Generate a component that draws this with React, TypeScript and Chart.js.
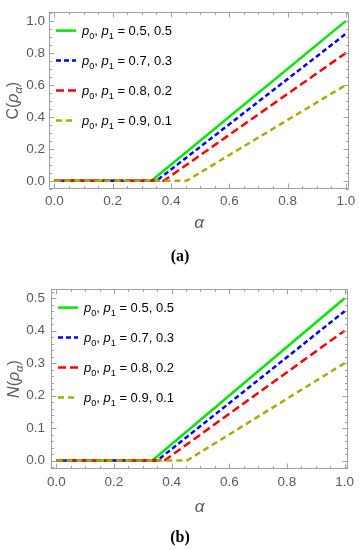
import React, { useEffect, useRef } from 'react';
import { Chart, registerables } from 'chart.js';

Chart.register(...registerables);

// ---------------- data ----------------
const xTicks = [0, 0.2, 0.4, 0.6, 0.8, 1.0];
const yTicksA = [0, 0.2, 0.4, 0.6, 0.8, 1.0];
const yTicksB = [0, 0.1, 0.2, 0.3, 0.4, 0.5];

const legendValues = ['0.5, 0.5', '0.7, 0.3', '0.8, 0.2', '0.9, 0.1'];

// alpha breakpoints of each series (same for both panels)
const alphaGreen = [0, 0.333, 1.0];
const alphaBlue = [0, 0.35, 1.0];
const alphaRed = [0, 0.375, 1.0];
const alphaOlive = [0, 0.453, 1.0];

// panel (a): C(rho_alpha)
const cGreen = [0, 0, 1.0];
const cBlue = [0, 0, 0.92];
const cRed = [0, 0, 0.8];
const cOlive = [0, 0, 0.6];

// panel (b): N(rho_alpha)
const nGreen = [0, 0, 0.5];
const nBlue = [0, 0, 0.46];
const nRed = [0, 0, 0.4];
const nOlive = [0, 0, 0.3];

// ---------------- styles ----------------
const seriesStyles = [
  { color: '#00e600', dash: [] as number[] },
  { color: '#0000ff', dash: [5, 3] },
  { color: '#ff0000', dash: [8, 4] },
  { color: '#aaaa00', dash: [6, 4] },
];

const W = 359;
const H = 275;
const X_MIN = -0.0185;
const X_MAX = 1.0115;
const labelColor = '#5a5a5a';
const frameColor = '#a0a0a0';
const FONT = '"Liberation Sans", Arial, sans-serif';

type Part = { t: string; italic?: boolean; sub?: boolean };

function richWidth(ctx: CanvasRenderingContext2D, parts: Part[], size: number) {
  let w = 0;
  for (const p of parts) {
    const fs = p.sub ? size * 0.7 : size;
    ctx.font = `${p.italic ? 'italic ' : ''}${fs}px ${FONT}`;
    w += ctx.measureText(p.t).width;
  }
  return w;
}

function drawRich(ctx: CanvasRenderingContext2D, parts: Part[], x: number, y: number, size: number) {
  let cx = x;
  ctx.textBaseline = 'alphabetic';
  ctx.textAlign = 'left';
  for (const p of parts) {
    const fs = p.sub ? size * 0.7 : size;
    ctx.font = `${p.italic ? 'italic ' : ''}${fs}px ${FONT}`;
    ctx.fillText(p.t, cx, y + (p.sub ? size * 0.28 : 0));
    cx += ctx.measureText(p.t).width;
  }
}

type PanelCfg = {
  key: string;
  yMin: number;
  yMax: number;
  yTicks: number[];
  yMinorStep: number;
  top: number;
  bottom: number;
  left: number;
  right: number;
  xPad: number;
  yPad: number;
  xTitleY: number;
  yTitleX: number;
  yTitle: Part[];
  caption: string;
  captionY: number;
  values: number[][];
};

function makeDecor(cfg: PanelCfg) {
  return {
    id: 'decor_' + cfg.key,
    afterDraw(chart: any) {
      const ctx: CanvasRenderingContext2D = chart.ctx;
      const a = chart.chartArea;
      const xs = chart.scales.x;
      const ys = chart.scales.y;
      ctx.save();
      // frame
      ctx.strokeStyle = frameColor;
      ctx.lineWidth = 1;
      ctx.setLineDash([]);
      const L = Math.round(a.left) + 0.5;
      const T = Math.round(a.top) + 0.5;
      const R = Math.round(a.right) - 0.5;
      const B = Math.round(a.bottom) - 0.5;
      ctx.strokeRect(L, T, R - L, B - T);
      // ticks
      const major = 5;
      const minor = 2.5;
      ctx.beginPath();
      for (let i = -2; i <= 22; i++) {
        const v = i * 0.05;
        if (v < X_MIN || v > X_MAX) continue;
        const isMajor = i % 4 === 0;
        const len = isMajor ? major : minor;
        const px = Math.round(xs.getPixelForValue(v)) + 0.5;
        ctx.moveTo(px, B);
        ctx.lineTo(px, B - len);
        ctx.moveTo(px, T);
        ctx.lineTo(px, T + len);
      }
      const steps = Math.round(cfg.yTicks[1] / cfg.yMinorStep);
      for (let i = -5; i <= 60; i++) {
        const v = i * cfg.yMinorStep;
        if (v < cfg.yMin || v > cfg.yMax) continue;
        const isMajor = i % steps === 0;
        const len = isMajor ? major : minor;
        const py = Math.round(ys.getPixelForValue(v)) + 0.5;
        ctx.moveTo(L, py);
        ctx.lineTo(L + len, py);
        ctx.moveTo(R, py);
        ctx.lineTo(R - len, py);
      }
      ctx.stroke();

      // legend
      for (let i = 0; i < 4; i++) {
        const y = a.top + 18.5 + 30 * i;
        ctx.strokeStyle = seriesStyles[i].color;
        ctx.lineWidth = 2.5;
        ctx.setLineDash(seriesStyles[i].dash);
        ctx.beginPath();
        ctx.moveTo(a.left + 7, y);
        ctx.lineTo(a.left + 27, y);
        ctx.stroke();
        ctx.setLineDash([]);
        ctx.fillStyle = '#000';
        drawRich(
          ctx,
          [
            { t: 'p', italic: true },
            { t: '0', sub: true },
            { t: ', ' },
            { t: 'p', italic: true },
            { t: '1', sub: true },
            { t: ' = ' + legendValues[i] },
          ],
          a.left + 33,
          y + 4.5,
          13
        );
      }

      // x title
      ctx.fillStyle = labelColor;
      ctx.font = `italic 17px ${FONT}`;
      ctx.textAlign = 'center';
      ctx.textBaseline = 'middle';
      ctx.fillText('α', (a.left + a.right) / 2, cfg.xTitleY);

      // y title
      ctx.save();
      ctx.translate(cfg.yTitleX, (a.top + a.bottom) / 2);
      ctx.rotate(-Math.PI / 2);
      const tw = richWidth(ctx, cfg.yTitle, 16);
      ctx.fillStyle = labelColor;
      drawRich(ctx, cfg.yTitle, -tw / 2, 5.5, 16);
      ctx.restore();

      // caption
      ctx.fillStyle = '#000';
      ctx.font = `bold 16px "Liberation Serif", "Times New Roman", serif`;
      ctx.textAlign = 'center';
      ctx.textBaseline = 'middle';
      ctx.fillText(cfg.caption, 180, cfg.captionY);
      ctx.restore();
    },
  };
}

function buildConfig(cfg: PanelCfg): any {
  const alphas = [alphaGreen, alphaBlue, alphaRed, alphaOlive];
  const datasets = cfg.values.map((vals, i) => ({
    data: vals.map((v, j) => ({ x: alphas[i][j], y: v })),
    borderColor: seriesStyles[i].color,
    borderDash: seriesStyles[i].dash,
    borderWidth: 2.5,
    borderCapStyle: 'butt',
    pointRadius: 0,
    tension: 0,
    fill: false,
    order: 3 - i,
  }));
  return {
    type: 'line',
    data: { datasets },
    plugins: [makeDecor(cfg)],
    options: {
      responsive: false,
      animation: false,
      devicePixelRatio: 1,
      layout: { padding: { left: 0, right: W - cfg.right, top: cfg.top, bottom: 0 } },
      plugins: { legend: { display: false }, tooltip: { enabled: false } },
      scales: {
        x: {
          type: 'linear',
          min: X_MIN,
          max: X_MAX,
          grid: { display: false, drawTicks: false },
          border: { display: false },
          afterFit: (s: any) => {
            s.height = H - cfg.bottom;
          },
          afterBuildTicks: (s: any) => {
            s.ticks = xTicks.map((v) => ({ value: v }));
          },
          ticks: {
            autoSkip: false,
            maxRotation: 0,
            padding: cfg.xPad,
            color: labelColor,
            font: { family: FONT, size: 13.5 },
            callback: (v: any) => Number(v).toFixed(1),
          },
        },
        y: {
          type: 'linear',
          min: cfg.yMin,
          max: cfg.yMax,
          grid: { display: false, drawTicks: false },
          border: { display: false },
          afterFit: (s: any) => {
            s.width = cfg.left;
          },
          afterBuildTicks: (s: any) => {
            s.ticks = cfg.yTicks.map((v) => ({ value: v }));
          },
          ticks: {
            autoSkip: false,
            padding: cfg.yPad,
            color: labelColor,
            font: { family: FONT, size: 13.5 },
            callback: (v: any) => Number(v).toFixed(1),
          },
        },
      },
    },
  };
}

const panelA: PanelCfg = {
  key: 'a',
  yMin: -0.053,
  yMax: 1.055,
  yTicks: yTicksA,
  yMinorStep: 0.05,
  top: 2,
  bottom: 189.3,
  left: 49,
  right: 352,
  xPad: 3.6,
  yPad: 4,
  xTitleY: 223,
  yTitleX: 12,
  yTitle: [{ t: 'C(' }, { t: 'ρ', italic: true }, { t: 'α', italic: true, sub: true }, { t: ')' }],
  caption: '(a)',
  captionY: 257,
  values: [cGreen, cBlue, cRed, cOlive],
};

const panelB: PanelCfg = {
  key: 'b',
  yMin: -0.026,
  yMax: 0.528,
  yTicks: yTicksB,
  yMinorStep: 0.02,
  top: 9,
  bottom: 194,
  left: 51,
  right: 352,
  xPad: 4.9,
  yPad: 6,
  xTitleY: 232,
  yTitleX: 13,
  yTitle: [{ t: 'N', italic: true }, { t: '(' }, { t: 'ρ', italic: true }, { t: 'α', italic: true, sub: true }, { t: ')' }],
  caption: '(b)',
  captionY: 263,
  values: [nGreen, nBlue, nRed, nOlive],
};

function Panel({ cfg, top }: { cfg: PanelCfg; top: number }) {
  const ref = useRef<HTMLCanvasElement | null>(null);
  useEffect(() => {
    if (!ref.current) return;
    const chart = new Chart(ref.current, buildConfig(cfg));
    return () => chart.destroy();
  }, [cfg]);
  return (
    <canvas
      ref={ref}
      width={W}
      height={H}
      style={{ position: 'absolute', left: 0, top, width: W, height: H, display: 'block' }}
    />
  );
}

export default function App() {
  return (
    <div style={{ position: 'absolute', left: 0, top: 0, width: W, height: 550, background: '#fff' }}>
      <Panel cfg={panelA} top={0} />
      <Panel cfg={panelB} top={275} />
    </div>
  );
}
